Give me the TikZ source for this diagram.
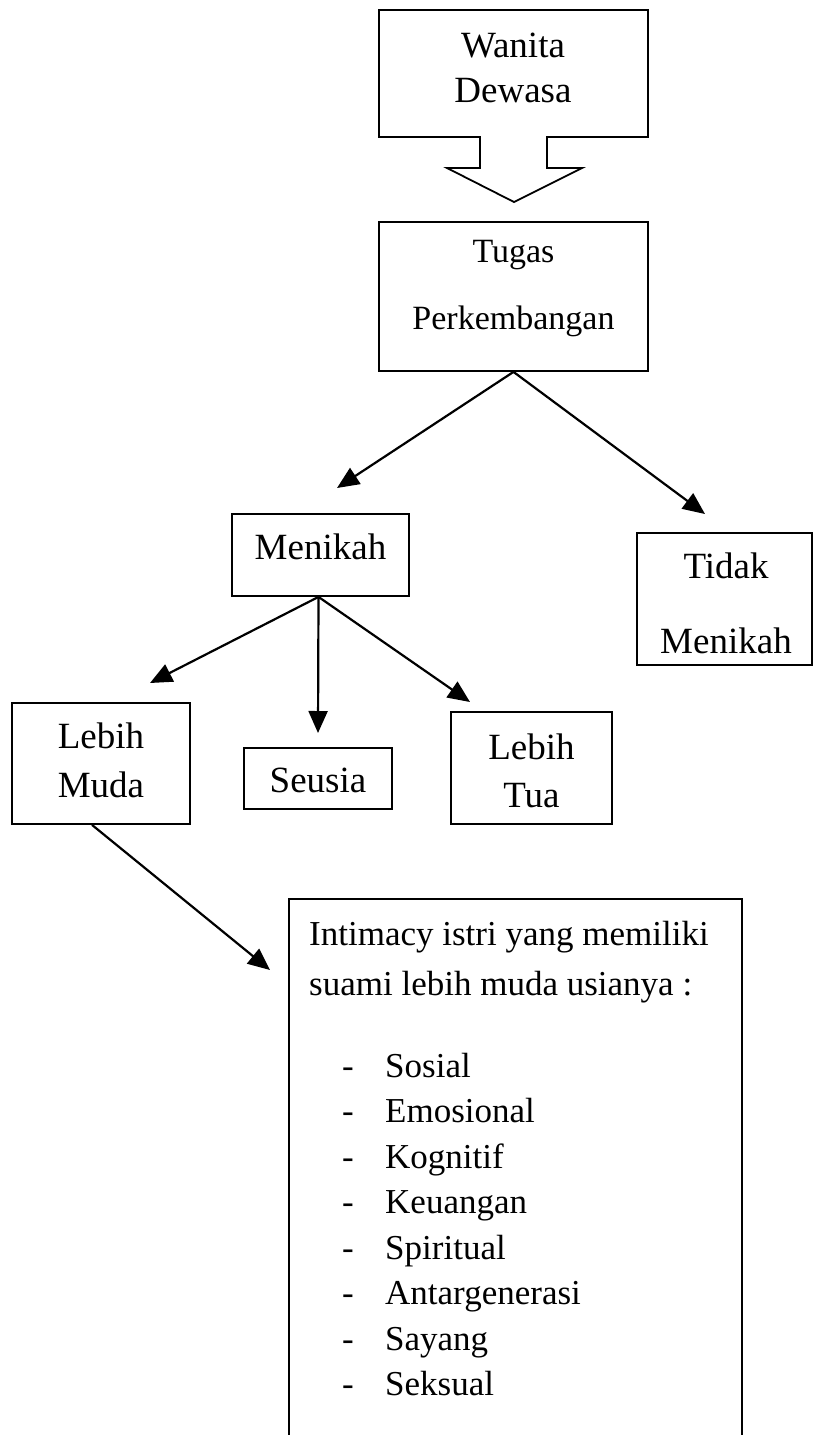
\documentclass[tikz,border=0pt]{standalone}
\usepackage{fontspec}
\setmainfont{Liberation Serif}
\usetikzlibrary{arrows.meta,calc}
\begin{document}
\begin{tikzpicture}[x=1pt,y=-1pt,
  box/.style={draw, line width=1.8pt, inner sep=0pt},
  txt/.style={anchor=base, inner sep=0pt, font=\fontsize{37}{44}\selectfont},
  smalltxt/.style={anchor=base, inner sep=0pt, font=\fontsize{34}{40}\selectfont},
  listtxt/.style={anchor=base west, inner sep=0pt, font=\fontsize{35}{42}\selectfont},
  arr/.style={line width=2.2pt, -{Triangle[length=22pt,width=19pt]}},
  conn/.style={line width=2.2pt}
]
\useasboundingbox (0,0) rectangle (814,1435);
\fill[white] (0,0) rectangle (814,1435);

% Wanita Dewasa arrow callout
\draw[line width=1.8pt, line join=miter]
  (379,10) -- (648,10) -- (648,137) -- (547,137) -- (547,168) -- (582,168)
  -- (514,202) -- (447,168) -- (480,168) -- (480,137) -- (379,137) -- cycle;
\coordinate (wanitaTip) at (514,202);
\node[txt] (wanita1) at (513,57) {Wanita};
\node[txt] (wanita2) at (513,102) {Dewasa};

% Tugas Perkembangan
\node[box, minimum width=269pt, minimum height=149pt] (tugas) at (513.5,296.5) {};
\node[smalltxt] (tugas1) at (513.5,262) {Tugas};
\node[smalltxt] (tugas2) at (513.5,329) {Perkembangan};

% Menikah
\node[box, minimum width=177pt, minimum height=82pt] (menikah) at (320.5,555) {};
\node[txt] (menikahT) at (320.5,559) {Menikah};

% Tidak Menikah
\node[box, minimum width=175pt, minimum height=132pt] (tidak) at (724.5,599) {};
\node[txt] (tidak1) at (726,578) {Tidak};
\node[txt] (tidak2) at (726,653) {Menikah};

% Lebih Muda
\node[box, minimum width=178pt, minimum height=121pt] (muda) at (101,763.5) {};
\node[txt] (muda1) at (101,748) {Lebih};
\node[txt] (muda2) at (101,797) {Muda};

% Seusia
\node[box, minimum width=148pt, minimum height=61pt] (seusia) at (318,778.5) {};
\node[txt] (seusiaT) at (318,792) {Seusia};

% Lebih Tua
\node[box, minimum width=161pt, minimum height=112pt] (tua) at (531.5,768) {};
\node[txt] (tua1) at (531.5,759) {Lebih};
\node[txt] (tua2) at (531.5,807) {Tua};

% Intimacy box (open at the bottom)
\draw[line width=1.8pt] (289,1435) -- (289,899) -- (742,899) -- (742,1435);
\coordinate (intim) at (289,899);
\node[listtxt] (i1) at (309,945) {Intimacy istri yang memiliki};
\node[listtxt] (i2) at (309,995) {suami lebih muda usianya :};
\foreach \t/\y [count=\k] in {Sosial/1077, Emosional/1122, Kognitif/1168, Keuangan/1213,
    Spiritual/1259, Antargenerasi/1304, Sayang/1350, Seksual/1395}{
  \node[listtxt] (d\k) at (342,\y) {-};
  \node[listtxt] (l\k) at (385,\y) {\t};
}

% connectors
\coordinate (toMenikah) at (337,488);
\coordinate (toTidak) at (705,514);
\coordinate (toMuda) at (150,683);
\coordinate (toSeusia) at (318,733);
\coordinate (toTua) at (470,702);
\coordinate (toIntim) at (270,970);

\draw[arr] (tugas.south) -- (toMenikah);
\draw[arr] (tugas.south) -- (toTidak);
\draw[arr] ($(menikah.south)+(-2,0)$) -- (toMuda);
\draw[arr] ($(menikah.south)+(-2,0)$) -- (toSeusia);
\draw[arr] ($(menikah.south)+(-2,0)$) -- (toTua);
\draw[arr] ($(muda.south west)!0.45!(muda.south east)$) -- (toIntim);
\end{tikzpicture}
\end{document}
